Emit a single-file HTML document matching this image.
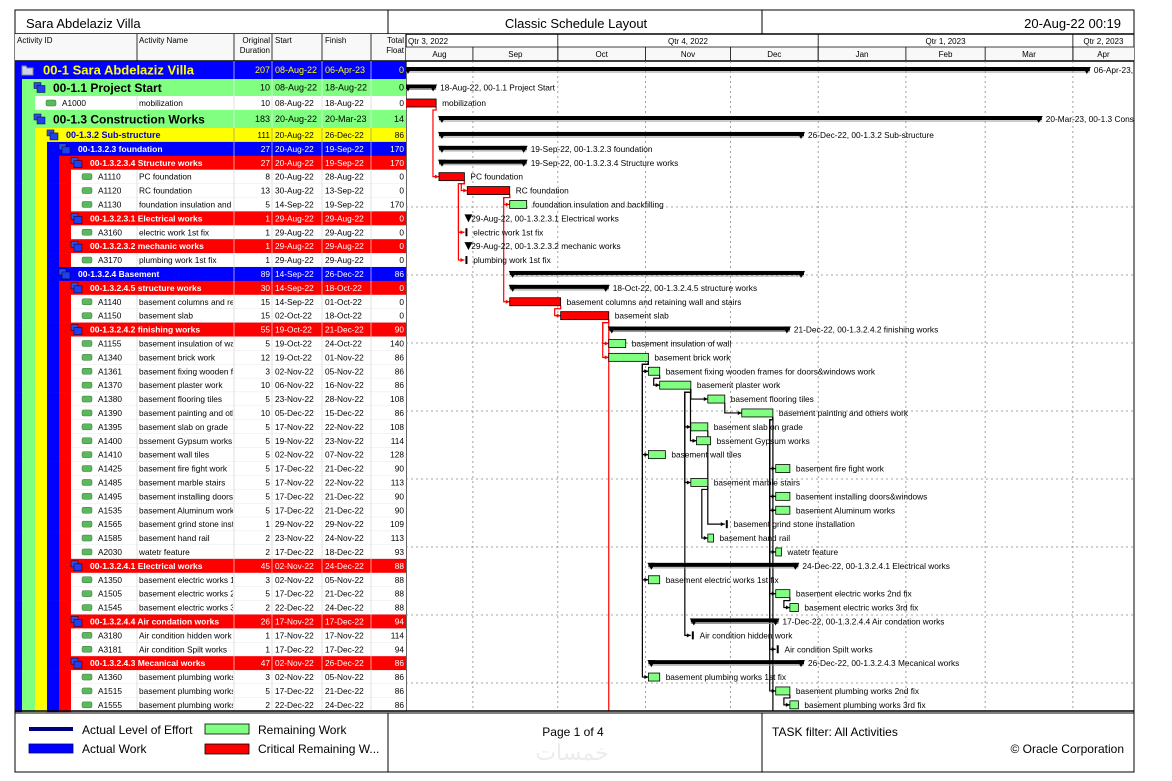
<!DOCTYPE html>
<html><head><meta charset="utf-8"><style>
html,body{margin:0;padding:0;background:#fff;}
svg{display:block;font-family:"Liberation Sans",Arial,sans-serif;}
</style></head><body>
<svg id="chart" width="1172" height="781" viewBox="0 0 1172 781"><defs><clipPath id="gclip"><rect x="406" y="61" width="728" height="650"/></clipPath></defs></svg>
<script>
// ---- data ----
const rowIds=["00-1","00-1.1","A1000","00-1.3","00-1.3.2","00-1.3.2.3","00-1.3.2.3.4","A1110","A1120","A1130","00-1.3.2.3.1","A3160","00-1.3.2.3.2","A3170","00-1.3.2.4","00-1.3.2.4.5","A1140","A1150","00-1.3.2.4.2","A1155","A1340","A1361","A1370","A1380","A1390","A1395","A1400","A1410","A1425","A1485","A1495","A1535","A1565","A1585","A2030","00-1.3.2.4.1","A1350","A1505","A1545","00-1.3.2.4.4","A3180","A3181","00-1.3.2.4.3","A1360","A1515","A1555"];
const rowLevels=[0,1,-2,1,2,3,4,-5,-5,-5,4,-5,4,-5,3,4,-5,-5,4,-5,-5,-5,-5,-5,-5,-5,-5,-5,-5,-5,-5,-5,-5,-5,-5,4,-5,-5,-5,4,-5,-5,4,-5,-5,-5];
const rowNames=["Sara Abdelaziz Villa","Project Start","mobilization","Construction Works","Sub-structure","foundation","Structure works","PC foundation","RC foundation","foundation insulation and backfilling","Electrical  works","electric work 1st fix","mechanic works","plumbing work 1st fix","Basement","structure works","basement  columns and retaining wall and stairs","basement  slab","finishing works","basement insulation of  wall","basement  brick work","basement  fixing wooden frames for doors&windows work","basement  plaster work","basement  flooring tiles","basement  painting and others work","basement  slab on grade","bssement Gypsum works","basement wall tiles","basement  fire fight work","basement  marble stairs","basement  installing doors&windows","basement Aluminum works","basement grind stone installation","basement hand rail","watetr feature","Electrical works","basement  electric works 1st fix","basement  electric works 2nd fix","basement  electric works 3rd fix","Air condation works","Air condition hidden work","Air condition Spilt works","Mecanical works","basement  plumbing works 1st fix","basement  plumbing works 2nd fix","basement  plumbing works 3rd fix"];
const rowDur=[207,10,10,183,111,27,27,8,13,5,1,1,1,1,89,30,15,15,55,5,12,3,10,5,10,5,5,5,5,5,5,5,1,2,2,45,3,5,2,26,1,1,47,3,5,2];
const rowStart=["2022-08-08","2022-08-08","2022-08-08","2022-08-20","2022-08-20","2022-08-20","2022-08-20","2022-08-20","2022-08-30","2022-09-14","2022-08-29","2022-08-29","2022-08-29","2022-08-29","2022-09-14","2022-09-14","2022-09-14","2022-10-02","2022-10-19","2022-10-19","2022-10-19","2022-11-02","2022-11-06","2022-11-23","2022-12-05","2022-11-17","2022-11-19","2022-11-02","2022-12-17","2022-11-17","2022-12-17","2022-12-17","2022-11-29","2022-11-23","2022-12-17","2022-11-02","2022-11-02","2022-12-17","2022-12-22","2022-11-17","2022-11-17","2022-12-17","2022-11-02","2022-11-02","2022-12-17","2022-12-22"];
const rowFinish=["2023-04-06","2022-08-18","2022-08-18","2023-03-20","2022-12-26","2022-09-19","2022-09-19","2022-08-28","2022-09-13","2022-09-19","2022-08-29","2022-08-29","2022-08-29","2022-08-29","2022-12-26","2022-10-18","2022-10-01","2022-10-18","2022-12-21","2022-10-24","2022-11-01","2022-11-05","2022-11-16","2022-11-28","2022-12-15","2022-11-22","2022-11-23","2022-11-07","2022-12-21","2022-11-22","2022-12-21","2022-12-21","2022-11-29","2022-11-24","2022-12-18","2022-12-24","2022-11-05","2022-12-21","2022-12-24","2022-12-17","2022-11-17","2022-12-17","2022-12-26","2022-11-05","2022-12-21","2022-12-24"];
const rowFloat=[0,0,0,14,86,170,170,0,0,170,0,0,0,0,86,0,0,0,90,140,86,86,86,108,86,108,114,128,90,113,90,90,109,113,93,88,88,88,88,94,114,94,86,86,86,86];
// predecessor id -> successor id ("OFF" = continues on next page)
const linkFrom=["A1000","A1110","A1120","A1110","A1110","A1120","A1140","A1150","A1150","A1340","A1361","A1370","A1380","A1370","A1370","A1340","A1390","A1370","A1390","A1390","A1395","A1485","A1390","A1340","A1390","A1505","A1370","A1390","A1340","A1390","A1515","A1150","A1390"];
const linkTo=["A1110","A1120","A1130","A3160","A3170","A1140","A1150","A1155","A1340","A1361","A1370","A1380","A1390","A1395","A1400","A1410","A1425","A1485","A1495","A1535","A1565","A1585","A2030","A1350","A1505","A1545","A3180","A3181","A1360","A1515","A1555","OFF","OFF"];
const monthLabels=["Aug","Sep","Oct","Nov","Dec","Jan","Feb","Mar","Apr"];
const monthStarts=["2022-08-01","2022-09-01","2022-10-01","2022-11-01","2022-12-01","2023-01-01","2023-02-01","2023-03-01","2023-04-01","2023-05-01"];
const quarterLabels=["Qtr 3, 2022","Qtr 4, 2022","Qtr 1, 2023","Qtr 2, 2023"];
const quarterStarts=["2022-07-01","2022-10-01","2023-01-01","2023-04-01","2023-07-01"];

// ---- layout helpers ----
const NS="http://www.w3.org/2000/svg";
const svg=document.getElementById('chart');
const GX0=406,GX1=1134,GY0=61,GY1=711;
const T0=Date.UTC(2022,7,8),PXD=2.83;
function days(s){const p=s.split('-');return (Date.UTC(+p[0],+p[1]-1,+p[2])-T0)/864e5;}
function xd(s){return 405+days(s)*PXD;}
function xc(s){return Math.max(GX0,Math.min(GX1,xd(s)));}
function fmt(s){const m=["Jan","Feb","Mar","Apr","May","Jun","Jul","Aug","Sep","Oct","Nov","Dec"];const p=s.split('-');return p[2]+"-"+m[+p[1]-1]+"-"+p[0].slice(2);}
function el(tag,attrs,parent){const e=document.createElementNS(NS,tag);for(const k in attrs)e.setAttribute(k,attrs[k]);(parent||svg).appendChild(e);return e;}
function txt(x,y,s,attrs,parent){const t=el('text',Object.assign({x:x,y:y},attrs||{}),parent);t.textContent=s;return t;}
const rowTop=[61,79,96,110],rowH=[18,17,14,18];
for(let i=4;i<rowIds.length;i++){rowTop.push(128+(i-4)*13.9);rowH.push(13.9);}
const bandX=[15,22,35,47,59,71];
const lvlColor=["#0000ff","#80ff80","#ffff00","#0000ff","#ff0000"];
const lvlText=["#ffff00","#000000","#0000cc","#ffffff","#ffffff"];
const lvlNum=["#ffff00","#000000","#000000","#ffffff","#ffffff"];
const lvlFont=[13,12,9,8.5,8.5];

// ---- frame & title ----
el('rect',{x:15,y:10,width:1119,height:762,fill:'#fff',stroke:'#000','stroke-width':1});
el('line',{x1:388,y1:10,x2:388,y2:34,stroke:'#000'});
el('line',{x1:762,y1:10,x2:762,y2:34,stroke:'#000'});
el('line',{x1:15,y1:34,x2:1134,y2:34,stroke:'#000','stroke-width':1.5});
let t=txt(26,28,"Sara Abdelaziz Villa",{'font-size':13});

t=txt(576,28,"Classic Schedule Layout",{'font-size':13,'text-anchor':'middle'});

t=txt(1121,28,"20-Aug-22 00:19",{'font-size':13,'text-anchor':'end'});


// ---- column headers ----
const hdr=el('g',{});

el('rect',{x:15,y:34,width:391,height:27,fill:'#f8f8f8'},hdr);
[137,234,272,322,371].forEach(x=>el('line',{x1:x,y1:34,x2:x,y2:61,stroke:'#000','stroke-width':0.8},hdr));
txt(17,43,"Activity ID",{'font-size':8},hdr);
txt(139,43,"Activity Name",{'font-size':8},hdr);
txt(270,43,"Original",{'font-size':8,'text-anchor':'end'},hdr);
txt(270,53,"Duration",{'font-size':8,'text-anchor':'end'},hdr);
txt(275,43,"Start",{'font-size':8},hdr);
txt(325,43,"Finish",{'font-size':8},hdr);
txt(404,43,"Total",{'font-size':8,'text-anchor':'end'},hdr);
txt(404,53,"Float",{'font-size':8,'text-anchor':'end'},hdr);
el('line',{x1:406,y1:34,x2:406,y2:711,stroke:'#000','stroke-width':1.2});
// timescale
const ts=el('g',{});

el('rect',{x:406,y:47,width:728,height:14,fill:'#f8f8f8'},ts);
el('line',{x1:406,y1:47,x2:1134,y2:47,stroke:'#000','stroke-width':0.8},ts);
el('line',{x1:15,y1:61,x2:1134,y2:61,stroke:'#000','stroke-width':1.5},ts);
for(let q=0;q<quarterLabels.length;q++){
  const a=xc(quarterStarts[q]),b=xc(quarterStarts[q+1]);
  if(q>0)el('line',{x1:a,y1:34,x2:a,y2:61,stroke:'#000','stroke-width':0.8},ts);
  const qt=q==0?txt(a+2,44,quarterLabels[q],{'font-size':8},ts):txt((a+b)/2,44,quarterLabels[q],{'font-size':8,'text-anchor':'middle'},ts);
  
}
for(let m=0;m<monthLabels.length;m++){
  const a=xc(monthStarts[m]),b=xc(monthStarts[m+1]);
  if(m>0){
    el('line',{x1:a,y1:47,x2:a,y2:61,stroke:'#000','stroke-width':0.8},ts);
    el('line',{x1:a,y1:61,x2:a,y2:711,stroke:'#888','stroke-width':0.8,'stroke-dasharray':'2,3'},ts);
  }
  const mt=txt((a+b)/2,57,monthLabels[m],{'font-size':8,'text-anchor':'middle'},ts);
  
}
// horizontal dotted grid
for(let gy=207;gy<711;gy+=68){el('line',{x1:406,y1:gy,x2:1134,y2:gy,stroke:'#888','stroke-width':0.8,'stroke-dasharray':'2,3'});}

// ---- table rows ----
for(let i=0;i<rowIds.length;i++){
  const L=rowLevels[i],y=rowTop[i],h=rowH[i],cy=y+h/2;
  const g=el('g',{});
  
  
  const own=L>=0?L:(-L-1);
  const upto=L>=0?L:own+1;
  for(let k=0;k<upto;k++)el('rect',{x:bandX[k],y:y,width:bandX[k+1]-bandX[k],height:h+0.3,fill:lvlColor[k]},g);
  if(L>=0){
    el('rect',{x:bandX[L],y:y,width:406-bandX[L],height:h+0.3,fill:lvlColor[L]},g);
    const fs=lvlFont[L],ix=bandX[L]+(L==0?7:13);
    if(L==0){el('path',{d:`M${ix} ${cy-4} h4 l1 2 h6 v7 h-11z`,fill:'#c8d4e8',stroke:'#889'},g);}
    else{el('rect',{x:ix-1,y:cy-5,width:7,height:6,fill:'#3050e0',stroke:'#002','stroke-width':0.5},g);el('rect',{x:ix+2,y:cy-2,width:8,height:7,fill:'#2040f0',stroke:'#002','stroke-width':0.5},g);}
    txt(bandX[L]+(L==0?28:31),cy+fs*0.36,rowIds[i]+"  "+rowNames[i],{'font-size':fs,'font-weight':'bold',fill:lvlText[L]},g);
  }else{
    const wx=bandX[own+1];
    el('rect',{x:wx,y:y,width:406-wx,height:h,fill:'#fff'},g);
    el('rect',{x:wx+11,y:cy-3,width:10,height:6,rx:1.5,fill:'#5cb85c',stroke:'#3a7a3a','stroke-width':0.5},g);
    txt(wx+27,cy+3,rowIds[i],{'font-size':8.3},g);
    const cp=el('clipPath',{id:'c'+i},g);el('rect',{x:137,y:y,width:96,height:h},cp);
    txt(139,cy+3,rowNames[i],{'font-size':8.3,'clip-path':`url(#c${i})`},g);
    el('line',{x1:wx,y1:y+h,x2:406,y2:y+h,stroke:'#ddd','stroke-width':0.6},g);
    [137,234,272,322,371].forEach(x=>el('line',{x1:x,y1:y,x2:x,y2:y+h,stroke:'#ccc','stroke-width':0.6},g));
  }
  const nc=L>=0?lvlNum[L]:'#000',fs2=L>=0&&L<2?9:8.3;
  txt(270,cy+3,String(rowDur[i]),{'font-size':fs2,'text-anchor':'end',fill:nc},g);
  txt(275,cy+3,fmt(rowStart[i]),{'font-size':fs2,fill:nc},g);
  txt(325,cy+3,fmt(rowFinish[i]),{'font-size':fs2,fill:nc},g);
  txt(404,cy+3,String(rowFloat[i]),{'font-size':fs2,'text-anchor':'end',fill:nc},g);
  if(L>=0){[234,272,322,371].forEach(x=>el('line',{x1:x,y1:y,x2:x,y2:y+h,stroke:L==2?'#888':'#fff','stroke-width':0.6},g));}
}

// ---- gantt layer (clipped) ----
const gl=el('g',{'clip-path':'url(#gclip)'});


const idx={};rowIds.forEach((r,i)=>idx[r]=i);
for(let k=0;k<linkFrom.length;k++){
  const p=idx[linkFrom[k]];const py=rowTop[p]+rowH[p]/2;const xe=xd(rowFinish[p])+PXD;
  const crit=rowFloat[p]==0;const col=crit?'#ff0000':'#000';
  let d;
  if(linkTo[k]==="OFF"){d=`M${xe} ${py+4} V711`;}
  else{
    const s=idx[linkTo[k]];const sy=rowTop[s]+rowH[s]/2;const xs=xd(rowStart[s]);
    const vx=Math.min(xe,xs-6);
    d=`M${xe} ${py+4} V${py+7} H${vx} V${sy} H${xs}`;
    el('path',{d:`M${xs} ${sy} l-4 -2 v4z`,fill:col},gl);
  }
  const lk=el('path',{d:d,fill:'none',stroke:col,'stroke-width':1.2},gl);
  
  
}
for(let i=0;i<rowIds.length;i++){
  const L=rowLevels[i],y=rowTop[i],h=rowH[i],cy=y+h/2;
  const xs=xd(rowStart[i]),xe=xd(rowFinish[i])+PXD;
  const g=el('g',{},gl);
  if(L>=0){
    
    
    if(rowDur[i]>1){
      el('rect',{x:xs,y:cy-3,width:xe-xs,height:4,fill:'#000'},g);
      el('line',{x1:xs,y1:cy+2,x2:xe,y2:cy+2,stroke:'#999','stroke-width':1},g);
      el('path',{d:`M${xs-1} ${cy-3} h8 l-4 7z`,fill:'#000'},g);
      el('path',{d:`M${xe-7} ${cy-3} h8 l-4 7z`,fill:'#000'},g);
    }else{
      el('path',{d:`M${xs} ${cy-4} h8 l-4 8z`,fill:'#000'},g);
    }
    if(i!==14)txt(xe+4,cy+3,fmt(rowFinish[i])+", "+rowIds[i]+"  "+rowNames[i],{'font-size':8.3},g);
  }else{
    
    
    const crit=rowFloat[i]==0;
    if(rowDur[i]>1){
      el('rect',{x:xs,y:cy-4,width:xe-xs,height:8,fill:crit?'#ff0000':'#80ff80',stroke:'#000','stroke-width':0.8},g);
    }else{
      el('rect',{x:xs+1,y:cy-4,width:2,height:8,fill:'#000'},g);
    }
    txt(xe+6,cy+3,rowNames[i],{'font-size':8.3},g);
  }
}
el('line',{x1:15,y1:711,x2:1134,y2:711,stroke:'#000','stroke-width':1.5});

// ---- footer ----
const ft=el('g',{});

el('rect',{x:15,y:713,width:1119,height:59,fill:'#fff',stroke:'#000','stroke-width':1},ft);
el('line',{x1:388,y1:713,x2:388,y2:772,stroke:'#000'},ft);
el('line',{x1:762,y1:713,x2:762,y2:772,stroke:'#000'},ft);
el('rect',{x:29,y:727,width:44,height:4,fill:'#000080'},ft);
el('rect',{x:29,y:744,width:44,height:9,fill:'#0000ff',stroke:'#000080','stroke-width':0.8},ft);
el('rect',{x:205,y:724,width:44,height:10,fill:'#80ff80',stroke:'#000','stroke-width':0.8},ft);
el('rect',{x:205,y:744,width:44,height:10,fill:'#ff0000',stroke:'#000','stroke-width':0.8},ft);
txt(82,734,"Actual Level of Effort",{'font-size':12},ft);
txt(82,753,"Actual Work",{'font-size':12},ft);
txt(258,734,"Remaining Work",{'font-size':12},ft);
txt(258,753,"Critical Remaining W...",{'font-size':12},ft);
txt(573,736,"Page 1 of 4",{'font-size':12,'text-anchor':'middle'},ft);
txt(572,760,"خمسات",{'font-size':22,'text-anchor':'middle',fill:'#ececec','font-family':'"DejaVu Sans",sans-serif'},ft);
txt(772,736,"TASK filter: All Activities",{'font-size':12},ft);
txt(1124,753,"© Oracle Corporation",{'font-size':12,'text-anchor':'end'},ft);
</script>
</body></html>
